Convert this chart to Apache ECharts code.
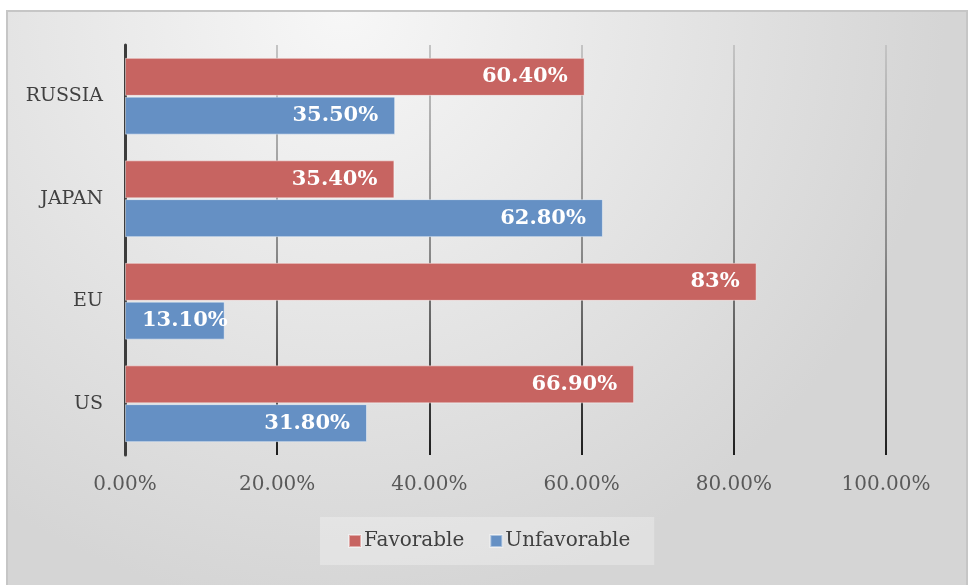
<!DOCTYPE html>
<html>
<head>
<meta charset="utf-8">
<script src="https://cdn.jsdelivr.net/npm/echarts@6/dist/echarts.min.js"></script>
<style>
  html, body { margin: 0; padding: 0; background: #ffffff; }
  #chart { width: 969px; height: 585px; }
</style>
</head>
<body>
<div id="chart"></div>
<script>
// Opinion by region: favorable vs unfavorable (percent)
const categories = ['US', 'EU', 'JAPAN', 'RUSSIA'];
const favorable = [66.9, 83, 35.4, 60.4];
const unfavorable = [31.8, 13.1, 62.8, 35.5];
const xTicks = [0, 20, 40, 60, 80, 100];

const FONT = '"DejaVu Serif", serif';

function pct(v) {
  return Number.isInteger(v) ? v + '%' : v.toFixed(2) + '%';
}

// Short bars get their label anchored at the bar's start instead of its end
function withLabels(values) {
  return values.map(v => ({
    value: v,
    label: { position: v < 20 ? 'insideLeft' : 'insideRight' }
  }));
}

const chart = echarts.init(document.getElementById('chart'));

const barLabel = {
  show: true,
  position: 'insideRight',
  distance: 17,
  color: '#ffffff',
  fontFamily: FONT,
  fontWeight: 'bold',
  fontSize: 21,
  formatter: p => pct(p.value)
};

chart.setOption({
  animation: false,
  graphic: [{
    type: 'rect',
    z: -10,
    silent: true,
    shape: { x: 7, y: 11, width: 960, height: 600 },
    style: {
      fill: new echarts.graphic.RadialGradient(0.35, 0.0, 1.0, [
        { offset: 0, color: '#f7f7f7' },
        { offset: 1, color: '#d5d5d5' }
      ]),
      stroke: '#c6c6c6',
      lineWidth: 2
    }
  }],
  grid: { left: 125, right: 83, top: 45, bottom: 130, containLabel: false },
  legend: {
    data: ['Favorable', 'Unfavorable'],
    left: 320,
    top: 517,
    padding: [14, 24, 14, 28],
    backgroundColor: 'rgba(255,255,255,0.28)',
    itemWidth: 12,
    itemHeight: 12,
    itemGap: 25,
    icon: 'rect',
    textStyle: { fontFamily: FONT, fontSize: 20, color: '#404040', padding: [0, 0, 0, -2] }
  },
  xAxis: {
    type: 'value',
    min: xTicks[0],
    max: xTicks[xTicks.length - 1],
    interval: 20,
    axisLine: { show: false },
    axisTick: { show: false },
    axisLabel: {
      margin: 20,
      color: '#595959',
      fontFamily: FONT,
      fontSize: 20,
      formatter: v => v.toFixed(2) + '%'
    },
    splitLine: {
      show: true,
      lineStyle: {
        width: 2,
        color: new echarts.graphic.LinearGradient(0, 45, 0, 455, [
          { offset: 0, color: '#c4c4c4' },
          { offset: 0.5, color: '#8a8a8a' },
          { offset: 1, color: '#1e1e1e' }
        ], true)
      }
    }
  },
  yAxis: {
    type: 'category',
    data: categories,
    axisLine: { show: true, lineStyle: { color: '#3c3c3c', width: 3 } },
    axisTick: { show: false },
    axisLabel: {
      margin: 22,
      color: '#404040',
      fontFamily: FONT,
      fontSize: 19
    }
  },
  series: [
    {
      name: 'Favorable',
      type: 'bar',
      data: withLabels(favorable),
      barWidth: 38,
      barGap: '2%',
      itemStyle: { color: '#c76461', borderColor: 'rgba(255,255,255,0.45)', borderWidth: 1 },
      label: barLabel
    },
    {
      name: 'Unfavorable',
      type: 'bar',
      data: withLabels(unfavorable),
      barWidth: 38,
      barGap: '2%',
      itemStyle: { color: '#6590c4', borderColor: 'rgba(255,255,255,0.45)', borderWidth: 1 },
      label: barLabel
    }
  ]
});
</script>
</body>
</html>
